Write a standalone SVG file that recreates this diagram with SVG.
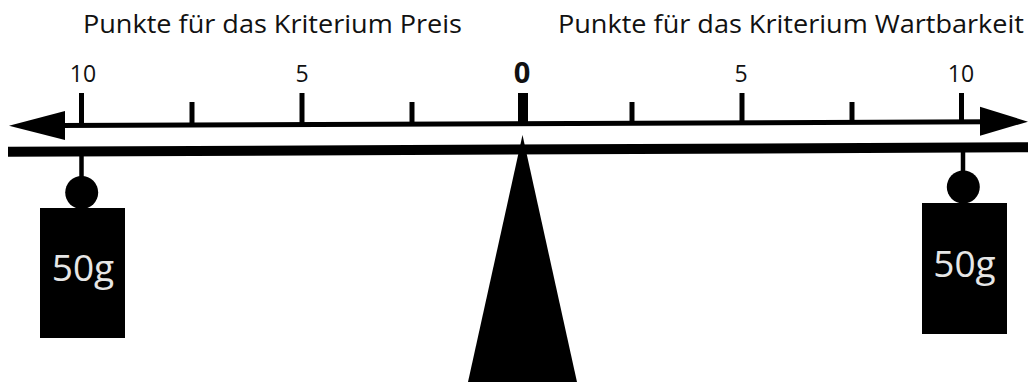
<svg xmlns="http://www.w3.org/2000/svg" width="1028" height="382" viewBox="0 0 1028 382">
  <style>
    .t { font-family: "Open Sans", "Noto Sans", "Liberation Sans", sans-serif; fill: #111; }
    .title { font-size: 25.5px; }
    .num { font-size: 23px; text-anchor: middle; }
    .zero { font-size: 29px; font-weight: bold; text-anchor: middle; }
    .w { font-family: "Open Sans", "Noto Sans", "Liberation Sans", sans-serif; font-size: 37px; fill: #e6e6e6; text-anchor: middle; }
    .blk { fill: #000; }
    .tick { stroke: #000; stroke-width: 5; }
  </style>
  <rect width="1028" height="382" fill="#fff"/>

  <g id="titles">
    <text class="t title" x="83" y="33" textLength="379" lengthAdjust="spacingAndGlyphs">Punkte für das Kriterium Preis</text>
    <text class="t title" x="558" y="33" textLength="466" lengthAdjust="spacingAndGlyphs">Punkte für das Kriterium Wartbarkeit</text>
  </g>

  <g id="numbers">
    <text class="t num" x="83" y="82">10</text>
    <text class="t num" x="302" y="82">5</text>
    <text class="t zero" x="522" y="83">0</text>
    <text class="t num" x="741" y="82">5</text>
    <text class="t num" x="961" y="82">10</text>
  </g>

  <g id="scale">
    <line x1="60" y1="125.5" x2="990" y2="121.8" stroke="#000" stroke-width="5"/>
    <polygon class="blk" points="9,125.7 65,111 65,140"/>
    <polygon class="blk" points="1028,121.7 980,106.7 980,135.7"/>
    <line class="tick" x1="81.5" y1="93" x2="81.5" y2="125"/>
    <line class="tick" x1="192" y1="102" x2="192" y2="124.5"/>
    <line class="tick" x1="302" y1="93" x2="302" y2="124"/>
    <line class="tick" x1="412" y1="102" x2="412" y2="123.5"/>
    <line x1="523" y1="93" x2="523" y2="123" stroke="#000" stroke-width="10"/>
    <line class="tick" x1="632" y1="102" x2="632" y2="122.6"/>
    <line class="tick" x1="742" y1="93" x2="742" y2="122.2"/>
    <line class="tick" x1="852" y1="102" x2="852" y2="121.8"/>
    <line class="tick" x1="961.5" y1="93" x2="961.5" y2="121.4"/>
  </g>

  <g id="fulcrum">
    <polygon class="blk" points="522.5,135 468,382 577,382"/>
  </g>

  <g id="beam">
    <line x1="8" y1="151.8" x2="1028" y2="147.2" stroke="#000" stroke-width="10"/>
  </g>

  <g id="weight-left">
    <line x1="81.5" y1="155" x2="81.5" y2="182" stroke="#000" stroke-width="4.5"/>
    <circle class="blk" cx="81.7" cy="192.5" r="16.5"/>
    <rect class="blk" x="40" y="208" width="85" height="130"/>
    <text class="w" x="83" y="281">50g</text>
  </g>

  <g id="weight-right">
    <line x1="963" y1="150" x2="963" y2="176" stroke="#000" stroke-width="4.5"/>
    <circle class="blk" cx="963.3" cy="187" r="16.5"/>
    <rect class="blk" x="922" y="203" width="85" height="131"/>
    <text class="w" x="964.5" y="277">50g</text>
  </g>
</svg>
